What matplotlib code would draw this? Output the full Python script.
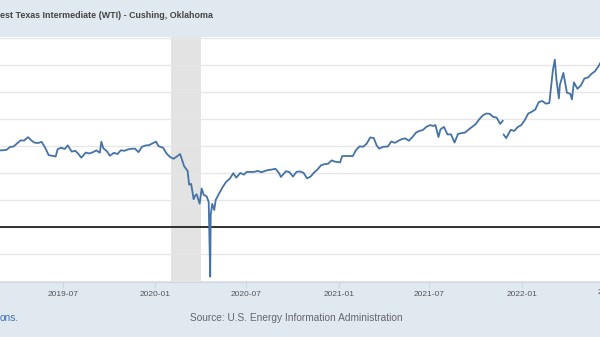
import numpy as np
import pandas as pd
import matplotlib
matplotlib.use("Agg")
import matplotlib.pyplot as plt

# WTI spot price, dollars per barrel
dates = [
    "2019-02-25", "2019-03-04", "2019-03-11", "2019-03-18", "2019-03-25", "2019-04-01",
    "2019-04-08", "2019-04-15", "2019-04-23", "2019-04-29", "2019-05-06", "2019-05-13",
    "2019-05-20", "2019-05-27", "2019-06-03", "2019-06-10", "2019-06-17", "2019-06-21",
    "2019-06-28", "2019-07-05", "2019-07-11", "2019-07-19", "2019-07-26", "2019-08-01",
    "2019-08-07", "2019-08-16", "2019-08-23", "2019-08-30", "2019-09-06", "2019-09-13",
    "2019-09-16", "2019-09-20", "2019-09-27", "2019-10-03", "2019-10-11", "2019-10-18",
    "2019-10-25", "2019-11-01", "2019-11-08", "2019-11-15", "2019-11-22", "2019-11-29",
    "2019-12-06", "2019-12-13", "2019-12-20", "2019-12-27",
    "2020-01-03", "2020-01-08", "2020-01-17", "2020-01-24", "2020-01-31", "2020-02-07",
    "2020-02-14", "2020-02-20", "2020-02-28", "2020-03-06", "2020-03-09", "2020-03-13",
    "2020-03-18", "2020-03-20", "2020-03-24", "2020-03-30", "2020-04-03", "2020-04-07",
    "2020-04-13", "2020-04-17", "2020-04-20", "2020-04-21", "2020-04-24", "2020-04-28",
    "2020-05-01", "2020-05-08", "2020-05-15", "2020-05-22", "2020-05-29", "2020-06-05",
    "2020-06-11", "2020-06-19", "2020-06-26", "2020-07-02", "2020-07-10", "2020-07-17",
    "2020-07-24", "2020-07-31", "2020-08-07", "2020-08-14", "2020-08-21", "2020-08-28",
    "2020-09-04", "2020-09-08", "2020-09-18", "2020-09-25", "2020-10-02", "2020-10-09",
    "2020-10-16", "2020-10-23", "2020-10-30", "2020-11-06", "2020-11-13", "2020-11-20",
    "2020-11-27", "2020-12-04", "2020-12-11", "2020-12-18", "2020-12-24",
    "2021-01-04", "2021-01-08", "2021-01-15", "2021-01-22", "2021-01-29", "2021-02-05",
    "2021-02-12", "2021-02-19", "2021-02-26", "2021-03-05", "2021-03-12", "2021-03-18",
    "2021-03-23", "2021-03-31", "2021-04-09", "2021-04-16", "2021-04-23", "2021-04-30",
    "2021-05-07", "2021-05-14", "2021-05-21", "2021-05-28", "2021-06-04", "2021-06-11",
    "2021-06-18", "2021-06-25", "2021-07-02", "2021-07-09", "2021-07-13", "2021-07-19",
    "2021-07-23", "2021-07-30", "2021-08-06", "2021-08-13", "2021-08-20", "2021-08-27",
    "2021-09-03", "2021-09-10", "2021-09-17", "2021-09-24", "2021-10-01", "2021-10-08",
    "2021-10-15", "2021-10-22", "2021-10-29", "2021-11-05", "2021-11-12", "2021-11-19",
    "2021-11-24", "2021-11-25", "2021-11-26", "2021-12-01", "2021-12-10", "2021-12-17",
    "2021-12-24", "2021-12-31",
    "2022-01-07", "2022-01-14", "2022-01-21", "2022-01-28", "2022-02-04", "2022-02-11",
    "2022-02-18", "2022-02-25", "2022-03-04", "2022-03-08", "2022-03-11", "2022-03-16",
    "2022-03-18", "2022-03-25", "2022-04-01", "2022-04-08", "2022-04-11", "2022-04-15",
    "2022-04-22", "2022-04-29", "2022-05-06", "2022-05-13", "2022-05-20", "2022-05-27",
    "2022-06-03", "2022-06-08",
]
prices = [
    56.5, 56.6, 56.9, 59.0, 59.4, 61.6,
    63.9, 63.8, 66.3, 64.0, 62.2, 62.0,
    62.8, 58.5, 53.0, 52.5, 52.0, 57.4,
    58.5, 57.5, 60.2, 55.6, 56.2, 54.0,
    51.1, 54.9, 54.2, 55.1, 56.5, 54.8,
    62.9, 58.1, 55.9, 52.5, 54.7, 53.8,
    56.6, 56.2, 57.2, 57.7, 57.8, 55.2,
    59.2, 60.1, 60.4, 61.7,
    63.0, 59.6, 58.5, 54.2, 51.6, 50.3,
    52.1, 53.8, 44.8, 41.3, 31.1, 31.7,
    20.4, 22.4, 24.0, 17.0, 28.3, 23.6,
    22.4, 18.3, -37.0, 8.9, 16.9, 12.3,
    19.8, 24.7, 29.4, 33.3, 35.5, 39.6,
    36.3, 39.8, 38.5, 40.6, 40.5, 40.6,
    41.3, 40.3, 41.2, 42.0, 42.3, 42.9,
    39.8, 36.8, 41.1, 40.3, 37.1, 40.6,
    40.9, 39.9, 35.8, 37.1, 40.1, 42.4,
    45.5, 46.3, 46.6, 49.1, 48.2,
    47.6, 52.2, 52.4, 52.3, 52.2, 56.9,
    59.5, 59.2, 61.5, 66.1, 65.6, 60.0,
    57.8, 59.2, 59.3, 63.1, 62.1, 63.6,
    64.9, 65.4, 63.6, 66.3, 69.6, 70.9,
    71.6, 74.0, 75.2, 74.6, 75.3, 66.4,
    72.1, 73.9, 68.3, 68.4, 62.3, 68.7,
    69.3, 69.7, 71.9, 73.9, 75.9, 79.4,
    82.3, 83.8, 83.6, 81.3, 80.8, 76.1,
    78.4, np.nan, 68.2, 65.6, 71.7, 70.9,
    73.8, 75.2,
    78.9, 83.8, 85.1, 86.8, 92.3, 93.1,
    91.1, 91.6, 115.7, 123.7, 109.3, 95.0,
    105.0, 113.9, 99.3, 98.3, 94.3, 106.9,
    102.1, 104.7, 109.8, 110.5, 113.2, 115.1,
    118.9, 122.1,
]

recession_start = "2020-02-01"
recession_end = "2020-04-01"
tick_dates = ["2019-07-01", "2020-01-01", "2020-07-01", "2021-01-01", "2021-07-01", "2022-01-01", "2022-07-01"]
tick_labels = ["2019-07", "2020-01", "2020-07", "2021-01", "2021-07", "2022-01", "2022-07"]

W, H = 600, 337
bg = "#e1e9f0"

plt.rcParams['font.family'] = ['Liberation Sans', 'DejaVu Sans']

fig = plt.figure(figsize=(W / 100, H / 100), dpi=100, facecolor=bg)
ax = fig.add_axes([0, 1 - 282 / H, 1, (282 - 37) / H])
ax.set_facecolor("white")

x = pd.to_datetime(dates)
ax.axvspan(pd.Timestamp(recession_start), pd.Timestamp(recession_end), color="#e3e3e3", lw=0, zorder=1)
ax.plot(x, prices, color="#4572a7", lw=1.3, zorder=3)
ax.axhline(0, color="#222222", lw=1.3, zorder=2)

ax.set_yticks(np.arange(-40, 141, 20))
ax.yaxis.grid(True, color="#e6e6e6", lw=0.9, zorder=0)
ax.tick_params(axis="y", left=False, labelleft=False)

ax.set_xticks(pd.to_datetime(tick_dates))
ax.set_xticklabels(tick_labels)
ax.tick_params(axis="x", direction="out", length=4, width=0.8, color="#ccd6eb",
               labelsize=6, labelcolor="#555555", pad=2.5)

# limits after the ticks, otherwise the 2022-07 tick widens the view
ax.set_xlim(pd.Timestamp("2019-02-26"), pd.Timestamp("2022-06-06"))
ax.set_ylim(-41, 140.5)

# the last tick sits just past the right edge; its label still peeks in
last_lbl = ax.get_xticklabels()[-1]
ax.text(pd.Timestamp(tick_dates[-1]), -0.03, tick_labels[-1], transform=ax.get_xaxis_transform(),
        ha="center", va="top", fontsize=6, color="#555555", clip_on=False)

for s in ["top", "left", "right"]:
    ax.spines[s].set_visible(False)
ax.spines["bottom"].set_color("#ccd6eb")
ax.spines["bottom"].set_linewidth(0.8)

fig.text(0 / W, 1 - 15 / H, "est Texas Intermediate (WTI) - Cushing, Oklahoma",
         fontsize=6.4, fontweight="bold", color="#444444", ha="left", va="center")
fig.text(0 / W, 1 - 318 / H, "ons.", fontsize=7.3, color="#3a6fb0", ha="left", va="center")
fig.text(296 / W, 1 - 318 / H, "Source: U.S. Energy Information Administration",
         fontsize=7.3, color="#666666", ha="center", va="center")

fig.savefig("out.png", dpi=100, facecolor=bg)
